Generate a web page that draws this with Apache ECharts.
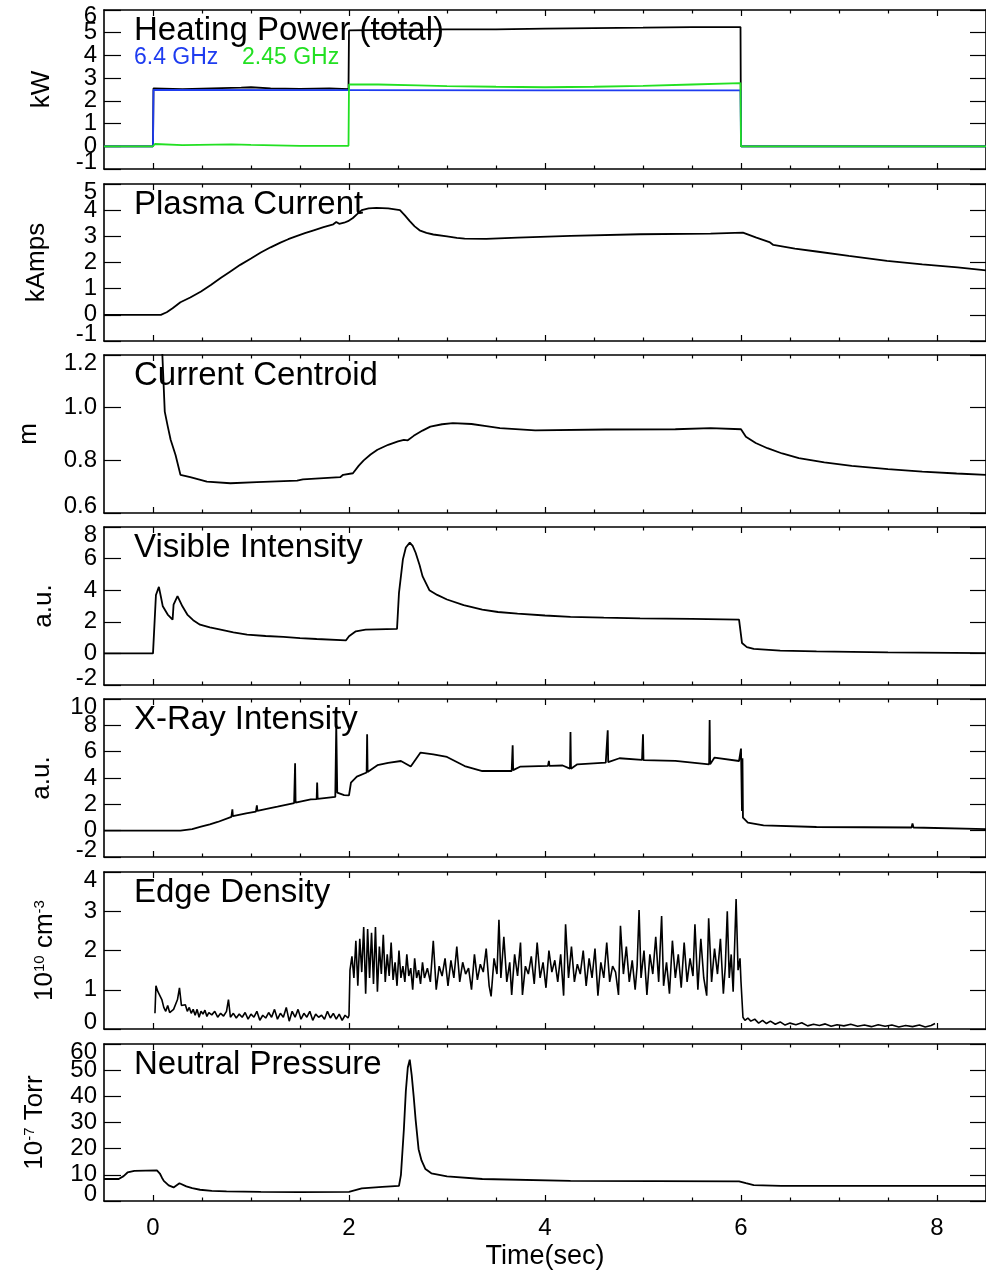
<!DOCTYPE html>
<html>
<head>
<meta charset="utf-8">
<script src="https://cdn.jsdelivr.net/npm/echarts@6/dist/echarts.min.js"></script>
<style>
html,body{margin:0;padding:0;background:#fff;}
#chart{width:986px;height:1271px;}
</style>
</head>
<body>
<div id="chart"></div>
<script>
// ---------- data (time in s) ----------
const xMajorTicks = [0, 2, 4, 6, 8];
const xMinorTicks = [0.5, 1, 1.5, 2.5, 3, 3.5, 4.5, 5, 5.5, 6.5, 7, 7.5];

const yTicksHeat = [-1, 0, 1, 2, 3, 4, 5, 6];
const yTicksCurrent = [-1, 0, 1, 2, 3, 4, 5];
const yTicksCentroid = [0.6, 0.8, 1.0, 1.2];
const yTicksVisible = [-2, 0, 2, 4, 6, 8];
const yTicksXray = [-2, 0, 2, 4, 6, 8, 10];
const yTicksDensity = [0, 1, 2, 3, 4];
const yTicksPressure = [0, 10, 20, 30, 40, 50, 60];

const heatTotal = [[-0.5,0],[0,0],[0.005,2.55],[0.3,2.52],[0.6,2.55],[0.9,2.58],[1.0,2.6],[1.2,2.55],[1.5,2.53],[1.8,2.55],[1.995,2.52],[2.0,5.1],[2.5,5.13],[3,5.15],[3.5,5.15],[4,5.18],[4.5,5.2],[5,5.22],[5.5,5.25],[5.995,5.25],[6.0,0],[8.5,0]];
const heat64 = [[-0.5,0],[0,0],[0.005,2.48],[2,2.47],[4,2.46],[5.995,2.46],[6.0,0],[8.5,0]];
const heat245 = [[-0.5,0],[0,0],[0.02,0.1],[0.3,0.05],[0.8,0.08],[1.0,0.06],[1.5,0.02],[1.995,0.02],[2.0,2.72],[2.3,2.72],[2.7,2.68],[3,2.65],[3.5,2.62],[4,2.6],[4.5,2.62],[5,2.66],[5.5,2.72],[5.995,2.78],[6.0,0],[8.5,0]];

const plasmaCurrent = [[-0.5,0],[0.08,0],[0.14,0.1],[0.2,0.25],[0.28,0.48],[0.38,0.66],[0.49,0.89],[0.59,1.14],[0.69,1.41],[0.79,1.66],[0.89,1.91],[1.0,2.15],[1.10,2.38],[1.20,2.58],[1.30,2.76],[1.38,2.89],[1.45,2.99],[1.55,3.12],[1.64,3.23],[1.74,3.35],[1.84,3.46],[1.87,3.55],[1.9,3.48],[1.95,3.52],[1.99,3.58],[2.04,3.7],[2.08,3.84],[2.13,4.0],[2.2,4.07],[2.28,4.09],[2.4,4.07],[2.52,4.0],[2.57,3.8],[2.62,3.58],[2.67,3.38],[2.72,3.23],[2.79,3.13],[2.86,3.07],[3.0,3.0],[3.1,2.94],[3.18,2.91],[3.4,2.9],[3.72,2.95],[4.26,3.02],[4.97,3.08],[5.69,3.10],[6.02,3.14],[6.15,2.96],[6.29,2.78],[6.33,2.67],[6.55,2.53],[6.77,2.42],[7.1,2.25],[7.49,2.06],[7.85,1.93],[8.21,1.81],[8.5,1.7]];

const centroid = [[0.05,1.6],[0.09,1.25],[0.12,0.985],[0.15,0.93],[0.18,0.878],[0.23,0.82],[0.28,0.745],[0.38,0.736],[0.55,0.719],[0.79,0.713],[1.06,0.717],[1.47,0.723],[1.53,0.728],[1.91,0.736],[1.94,0.745],[2.04,0.751],[2.1,0.78],[2.15,0.80],[2.22,0.822],[2.29,0.84],[2.4,0.859],[2.5,0.872],[2.56,0.878],[2.6,0.876],[2.66,0.893],[2.75,0.913],[2.83,0.928],[2.95,0.937],[3.06,0.941],[3.25,0.938],[3.4,0.93],[3.54,0.922],[3.9,0.914],[4.62,0.917],[5.33,0.918],[5.69,0.922],[6.0,0.918],[6.05,0.89],[6.15,0.866],[6.27,0.846],[6.42,0.826],[6.59,0.808],[6.85,0.792],[7.13,0.779],[7.5,0.767],[7.85,0.757],[8.2,0.75],[8.5,0.745]];

const visible = [[-0.5,0],[0.0,0],[0.02,0.05],[0.03,3.7],[0.06,4.21],[0.08,3.6],[0.1,2.98],[0.15,2.46],[0.2,2.14],[0.21,3.09],[0.25,3.62],[0.3,2.98],[0.35,2.46],[0.41,2.1],[0.48,1.82],[0.58,1.64],[0.69,1.50],[0.82,1.33],[0.96,1.19],[1.15,1.1],[1.33,1.04],[1.5,0.97],[1.67,0.91],[1.97,0.83],[2.0,1.08],[2.07,1.4],[2.17,1.5],[2.49,1.55],[2.51,3.83],[2.55,5.95],[2.58,6.7],[2.62,7.01],[2.65,6.8],[2.68,6.37],[2.72,5.6],[2.75,4.89],[2.82,4.0],[2.9,3.7],[3.0,3.41],[3.17,3.05],[3.36,2.77],[3.52,2.62],[3.72,2.52],[4.0,2.4],[4.26,2.31],[4.6,2.26],[4.97,2.22],[5.5,2.18],[5.98,2.14],[6.01,0.66],[6.06,0.4],[6.13,0.28],[6.4,0.18],[6.77,0.13],[7.5,0.07],[8.5,0.02]];

const xray = [[-0.5,0],[0.28,0],[0.4,0.12],[0.49,0.3],[0.58,0.48],[0.66,0.66],[0.8,1.05],[0.81,1.62],[0.815,1.1],[0.95,1.32],[1.05,1.45],[1.06,1.92],[1.065,1.5],[1.16,1.65],[1.27,1.82],[1.44,2.1],[1.45,5.12],[1.455,2.13],[1.61,2.38],[1.67,2.4],[1.675,3.65],[1.68,2.42],[1.86,2.56],[1.87,8.08],[1.88,2.89],[1.95,2.7],[2.0,2.68],[2.02,3.65],[2.08,4.1],[2.18,4.42],[2.185,7.32],[2.19,4.46],[2.29,4.97],[2.4,5.15],[2.53,5.29],[2.63,4.87],[2.73,5.93],[2.86,5.8],[3.0,5.6],[3.18,4.91],[3.36,4.53],[3.66,4.53],[3.67,6.49],[3.675,4.6],[3.75,4.87],[4.03,4.92],[4.04,5.3],[4.045,4.92],[4.18,4.95],[4.255,4.71],[4.26,7.5],[4.265,4.7],[4.33,5.04],[4.62,5.17],[4.64,7.63],[4.645,5.2],[4.76,5.5],[4.99,5.37],[5.0,7.32],[5.005,5.35],[5.33,5.3],[5.675,5.04],[5.68,8.41],[5.685,5.05],[5.73,5.55],[5.98,5.29],[6.0,6.23],[6.01,1.5],[6.015,5.5],[6.02,0.99],[6.07,0.61],[6.23,0.4],[6.77,0.28],[7.74,0.24],[7.75,0.55],[7.76,0.24],[8.5,0.12]];

const edgeDensity = [[0.02,0.4],[0.03,1.1],[0.05,0.95],[0.07,1.0],[0.09,0.75],[0.11,0.55],[0.13,0.45],[0.15,0.6],[0.17,0.42],[0.19,0.38],[0.21,0.5],[0.23,0.45],[0.25,0.75],[0.27,1.05],[0.29,0.6],[0.31,0.55],[0.33,0.62],[0.35,0.45],[0.37,0.55],[0.39,0.4],[0.41,0.5],[0.43,0.35],[0.45,0.5],[0.47,0.3],[0.49,0.45],[0.51,0.38],[0.53,0.48],[0.55,0.32],[0.57,0.42],[0.6,0.36],[0.63,0.45],[0.66,0.3],[0.69,0.4],[0.72,0.33],[0.75,0.45],[0.77,0.75],[0.79,0.3],[0.82,0.4],[0.85,0.28],[0.88,0.38],[0.91,0.3],[0.94,0.42],[0.97,0.25],[1.0,0.38],[1.03,0.3],[1.06,0.45],[1.09,0.22],[1.12,0.35],[1.15,0.28],[1.18,0.42],[1.21,0.3],[1.24,0.5],[1.27,0.25],[1.3,0.4],[1.33,0.3],[1.36,0.55],[1.39,0.2],[1.42,0.45],[1.45,0.3],[1.48,0.5],[1.51,0.25],[1.54,0.4],[1.57,0.3],[1.6,0.45],[1.63,0.22],[1.66,0.38],[1.69,0.3],[1.72,0.35],[1.75,0.25],[1.78,0.45],[1.81,0.28],[1.84,0.4],[1.87,0.25],[1.9,0.38],[1.93,0.22],[1.96,0.35],[1.99,0.28],
[2.00,0.35],[2.01,1.5],[2.03,1.85],[2.05,1.3],[2.07,2.25],[2.09,1.1],[2.11,2.3],[2.13,1.45],[2.15,2.6],[2.17,0.9],[2.19,2.55],[2.21,1.3],[2.23,2.45],[2.25,1.15],[2.27,2.6],[2.29,0.95],[2.31,2.1],[2.33,1.4],[2.35,2.4],[2.37,1.2],[2.39,1.9],[2.41,1.35],[2.43,2.2],[2.45,1.25],[2.47,1.7],[2.49,1.1],[2.51,2.0],[2.53,1.3],[2.55,1.6],[2.57,1.2],[2.59,1.9],[2.61,1.35],[2.63,1.55],[2.65,1.0],[2.67,1.8],[2.69,1.3],[2.71,1.5],[2.73,1.15],[2.75,1.7],[2.77,1.3],[2.80,1.55],[2.83,1.2],[2.86,2.25],[2.89,1.0],[2.92,1.6],[2.95,1.35],[2.98,1.8],[3.01,1.1],[3.04,1.75],[3.07,1.3],[3.10,2.1],[3.13,1.2],[3.16,1.7],[3.19,1.4],[3.22,1.55],[3.25,1.0],[3.28,1.9],[3.31,1.25],[3.34,1.65],[3.37,1.45],[3.40,2.05],[3.43,1.1],[3.45,0.83],[3.48,1.8],[3.51,1.4],[3.53,2.78],[3.55,1.3],[3.58,2.35],[3.61,1.2],[3.64,1.7],[3.66,0.87],[3.69,1.9],[3.72,1.35],[3.75,2.2],[3.77,0.87],[3.80,1.6],[3.83,1.4],[3.86,1.85],[3.89,1.15],[3.92,2.2],[3.95,1.3],[3.98,1.7],[4.01,1.05],[4.04,2.0],[4.07,1.45],[4.10,1.75],[4.13,1.2],[4.16,1.9],[4.19,0.85],[4.21,2.67],[4.24,1.3],[4.27,2.1],[4.30,1.2],[4.33,1.65],[4.36,1.4],[4.39,2.0],[4.42,1.1],[4.45,1.8],[4.48,1.3],[4.51,2.05],[4.54,0.85],[4.57,1.7],[4.60,1.3],[4.63,2.2],[4.66,1.2],[4.69,1.6],[4.72,1.45],[4.75,0.87],[4.77,2.63],[4.80,1.4],[4.83,2.1],[4.86,1.2],[4.89,1.75],[4.92,1.0],[4.94,1.6],[4.96,3.03],[4.98,1.3],[5.01,2.0],[5.04,0.87],[5.07,1.9],[5.10,1.4],[5.13,2.35],[5.16,1.2],[5.19,2.88],[5.21,1.1],[5.24,1.7],[5.27,0.9],[5.30,2.25],[5.33,1.3],[5.36,1.9],[5.39,1.05],[5.42,2.2],[5.45,1.2],[5.48,1.8],[5.51,1.35],[5.53,2.67],[5.56,1.0],[5.59,2.3],[5.62,1.3],[5.65,0.85],[5.67,2.82],[5.70,1.2],[5.73,2.05],[5.76,1.4],[5.79,2.3],[5.82,0.9],[5.84,1.6],[5.86,3.0],[5.88,1.3],[5.90,1.9],[5.92,0.95],[5.95,3.31],[5.97,1.5],[5.99,1.8],[6.00,1.2],[6.02,0.3],[6.04,0.22],[6.07,0.28],[6.10,0.2],[6.14,0.25],[6.18,0.15],[6.22,0.22],[6.26,0.14],[6.30,0.2],[6.35,0.12],[6.40,0.18],[6.45,0.1],[6.50,0.15],[6.56,0.11],[6.62,0.16],[6.68,0.08],[6.74,0.12],[6.80,0.09],[6.86,0.13],[6.92,0.07],[6.98,0.11],[7.05,0.08],[7.12,0.12],[7.19,0.07],[7.26,0.1],[7.33,0.06],[7.40,0.11],[7.47,0.07],[7.54,0.1],[7.61,0.05],[7.68,0.09],[7.75,0.06],[7.82,0.1],[7.88,0.05],[7.94,0.09],[7.98,0.14]];

const pressure = [[-0.5,8.4],[-0.35,8.4],[-0.3,9.5],[-0.26,10.9],[-0.19,11.5],[0.04,11.7],[0.07,10.5],[0.09,9.0],[0.11,7.7],[0.16,6.0],[0.21,5.2],[0.23,4.9],[0.27,6.8],[0.34,5.6],[0.4,4.9],[0.48,4.3],[0.6,3.9],[0.75,3.7],[1.1,3.5],[1.49,3.4],[2.0,3.5],[2.13,4.8],[2.34,5.4],[2.51,5.8],[2.53,10],[2.56,27.4],[2.58,42],[2.6,51],[2.62,54],[2.64,48],[2.66,40],[2.68,31],[2.71,19.8],[2.74,15.5],[2.78,12.2],[2.84,10.6],[3.0,9.4],[3.36,8.4],[4.26,7.7],[5.98,7.5],[6.05,6.8],[6.13,6.1],[6.41,5.8],[8.5,5.8]];

// ---------- layout ----------
const FONT = "'Liberation Sans', Arial, Helvetica, sans-serif";
const panels = [
  {top:10,  height:159, ticks:yTicksHeat,     title:'Heating Power (total)', name:'kW',    gap:49, topPad:12},
  {top:184, height:157, ticks:yTicksCurrent,  title:'Plasma Current',        name:'kAmps', gap:54},
  {top:355, height:158, ticks:yTicksCentroid, title:'Current Centroid',      name:'m',     gap:62, fixed:1},
  {top:527, height:158, ticks:yTicksVisible,  title:'Visible Intensity',     name:'a.u.',  gap:47},
  {top:699, height:158, ticks:yTicksXray,     title:'X-Ray Intensity',       name:'a.u.',  gap:49},
  {top:872, height:157, ticks:yTicksDensity,  title:'Edge Density',          name:'10{sup|10} cm{sup|-3}', gap:46},
  {top:1044,height:158, ticks:yTicksPressure, title:'Neutral Pressure',      name:'10{sup|-7} Torr', gap:56}
];

const grids = [], xAxes = [], yAxes = [], titles = [], series = [];
const axisLine = {show:true, onZero:false, lineStyle:{color:'#000', width:1.6}};
const noLine = {show:false, onZero:false};
const LBL = 24;

function fmt(p, v) { return p.fixed ? Number(v).toFixed(p.fixed) : String(v); }

function labelAxis(i, p, values, richStyle) {
  const ymin = p.ticks[0], ymax = p.ticks[p.ticks.length-1];
  return {
    type:'value', gridIndex:i, min:ymin, max:ymax, position:'left',
    axisLine: noLine, axisTick:{show:false}, splitLine:{show:false},
    axisLabel:{show:true, customValues:values, margin:7, color:'#000',
      showMinLabel:true, showMaxLabel:true, hideOverlap:false,
      formatter:(v) => '{s|' + fmt(p, v) + '}',
      rich:{s:Object.assign({fontSize:LBL, fontFamily:FONT, color:'#000'}, richStyle)}}
  };
}

panels.forEach((p, i) => {
  grids.push({left:104, right:-3, top:p.top, height:p.height, containLabel:false});
  const last = i === panels.length - 1;
  ['bottom','top'].forEach(pos => {
    xAxes.push({
      type:'value', gridIndex:i, min:-0.5, max:8.5, position:pos,
      axisLine: axisLine,
      axisTick:{show:true, inside:true, length:6, customValues:xMajorTicks, lineStyle:{color:'#000', width:1.2}},
      axisLabel:{show: last && pos==='bottom', customValues:xMajorTicks, fontSize:24, fontFamily:FONT, color:'#000', margin:15},
      splitLine:{show:false},
      name: (last && pos==='bottom') ? 'Time(sec)' : '',
      nameLocation:'middle', nameGap:42,
      nameTextStyle:{fontSize:27, fontFamily:FONT, color:'#000'}
    });
    xAxes.push({
      type:'value', gridIndex:i, min:-0.5, max:8.5, position:pos,
      axisLine: noLine,
      axisTick:{show:true, inside:true, length:3.5, customValues:xMinorTicks, lineStyle:{color:'#000', width:1.2}},
      axisLabel:{show:false}, splitLine:{show:false}
    });
  });
  const ymin = p.ticks[0], ymax = p.ticks[p.ticks.length-1];
  const inner = p.ticks.slice(1, -1);
  const innerA = inner.filter((v, k) => k % 2 === 0);
  const innerB = inner.filter((v, k) => k % 2 === 1);
  yAxes.push({
    type:'value', gridIndex:i, min:ymin, max:ymax, position:'left',
    axisLine: axisLine,
    axisTick:{show:true, inside:true, length:17, customValues:p.ticks, lineStyle:{color:'#000', width:1.2}},
    axisLabel:{show:false},
    splitLine:{show:false},
    name:p.name, nameLocation:'middle', nameGap:p.gap,
    nameTextStyle:{fontSize:26, fontFamily:FONT, color:'#000',
      rich:{sup:{fontSize:15, fontFamily:FONT, color:'#000', verticalAlign:'top'}}}
  });
  yAxes.push(labelAxis(i, p, innerA, {}));
  yAxes.push(labelAxis(i, p, innerB, {}));
  yAxes.push(labelAxis(i, p, [ymax], {padding:[p.topPad || 16,0,0,0]}));
  yAxes.push(labelAxis(i, p, [ymin], {padding:[0,0,13,0]}));
  yAxes.push({
    type:'value', gridIndex:i, min:ymin, max:ymax, position:'right',
    axisLine: axisLine,
    axisTick:{show:true, inside:true, length:16, customValues:p.ticks, lineStyle:{color:'#000', width:1.2}},
    axisLabel:{show:false}, splitLine:{show:false}
  });
  titles.push({text:p.title, left:134, top:p.top + 4, padding:0,
    textStyle:{fontSize:33, fontWeight:'normal', fontFamily:FONT, color:'#000'}});
});

titles.push({text:'6.4 GHz', left:134, top:46, padding:0,
  textStyle:{fontSize:23, fontWeight:'normal', fontFamily:FONT, color:'#1e3cf0'}});
titles.push({text:'2.45 GHz', left:242, top:46, padding:0,
  textStyle:{fontSize:23, fontWeight:'normal', fontFamily:FONT, color:'#22e022'}});

const Y_STRIDE = 6;
function line(data, gi, color, width) {
  return {type:'line', data:data, xAxisIndex:gi*4, yAxisIndex:gi*Y_STRIDE, showSymbol:false,
    symbol:'none', clip:true, lineStyle:{color:color, width:width || 1.8}, animation:false};
}
series.push(line(heatTotal, 0, '#000'));
series.push(line(heat64, 0, '#1e3cf0'));
series.push(line(heat245, 0, '#22e022'));
series.push(line(plasmaCurrent, 1, '#000'));
series.push(line(centroid, 2, '#000'));
series.push(line(visible, 3, '#000'));
series.push(line(xray, 4, '#000'));
series.push(line(edgeDensity, 5, '#000', 1.6));
series.push(line(pressure, 6, '#000'));

const chart = echarts.init(document.getElementById('chart'), null, {renderer:'canvas'});
chart.setOption({
  animation:false,
  backgroundColor:'#fff',
  title: titles,
  grid: grids,
  xAxis: xAxes,
  yAxis: yAxes,
  series: series
});
</script>
</body>
</html>
